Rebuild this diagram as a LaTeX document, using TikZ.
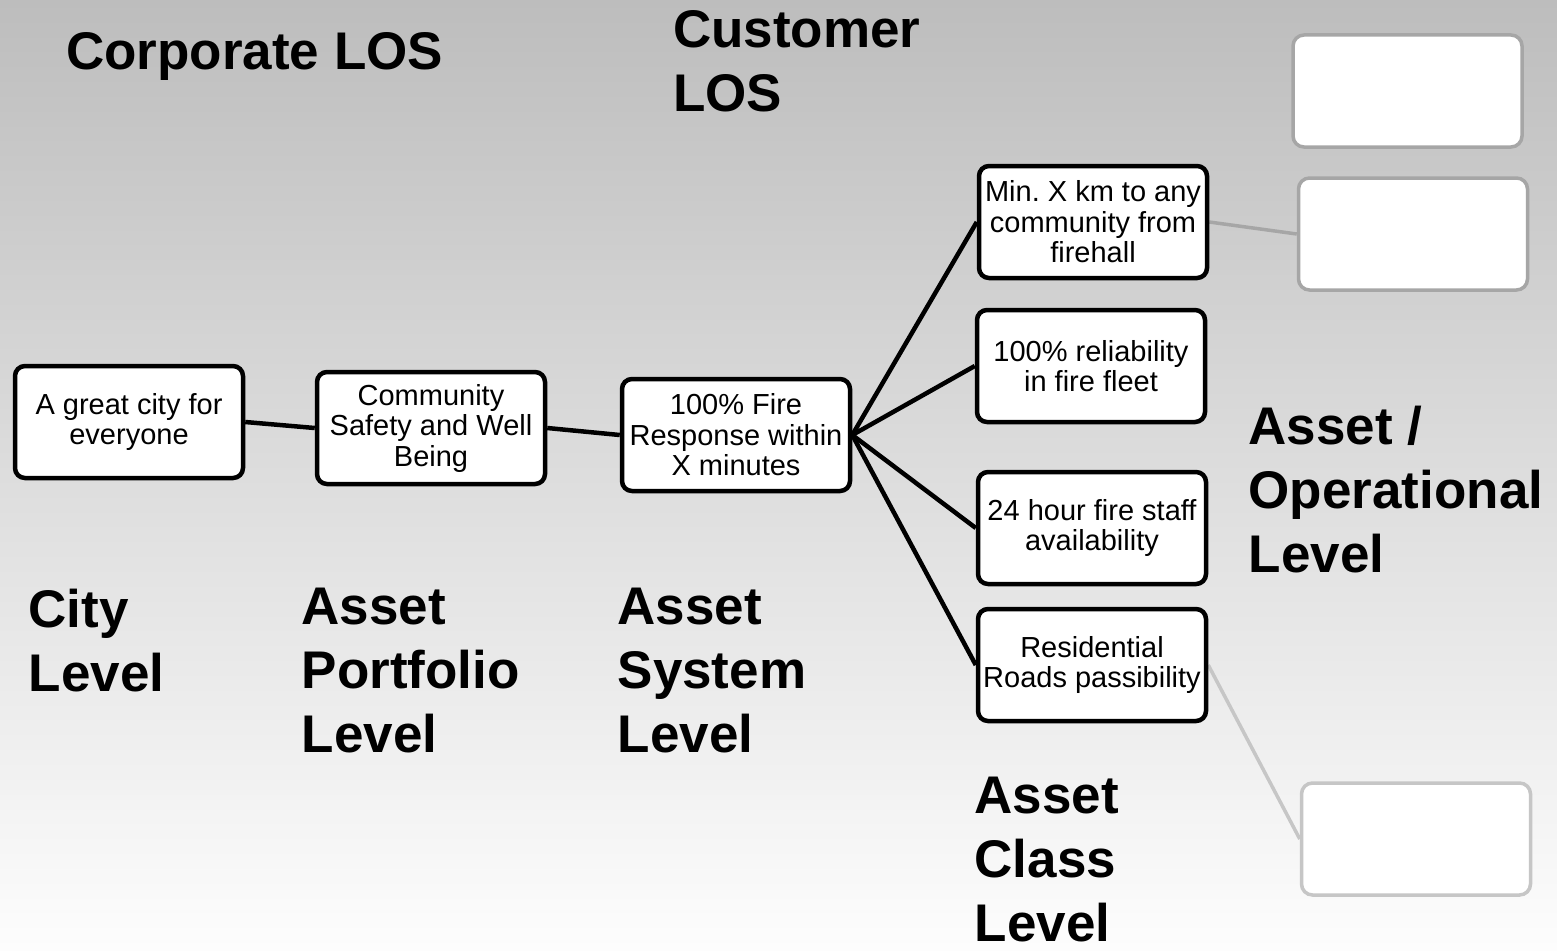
\documentclass[tikz,border=0pt]{standalone}
\usepackage{fontspec}
\setmainfont{Liberation Sans}
\frenchspacing
\pgfdeclarelayer{bg}
\pgfsetlayers{bg,main}
\definecolor{bgtop}{RGB}{189,189,189}
\definecolor{bgbot}{RGB}{253,253,253}
\definecolor{graydark}{RGB}{166,166,166}
\definecolor{graylight}{RGB}{198,198,198}
\tikzset{
  losbox/.style={draw=black, line width=4.5pt, rounded corners=10pt, fill=white,
    minimum width=228pt, minimum height=112pt, inner xsep=2pt, inner ysep=2pt,
    align=center, font=\fontsize{29}{30.5}\selectfont},
  emptybox/.style={draw=#1, line width=3.5pt, rounded corners=11pt, fill=white,
    minimum width=229pt, minimum height=112pt},
  heading/.style={anchor=north west, inner sep=0pt, align=left,
    font=\fontsize{53}{64}\selectfont\bfseries},
  link/.style={draw=black, line width=4.5pt},
  greylink/.style={draw=#1, line width=3.5pt}
}
\begin{document}
\begin{tikzpicture}[x=1pt, y=-1pt]
\useasboundingbox (0,0) rectangle (1557,950);
\begin{pgfonlayer}{bg}
\shade[top color=bgtop, bottom color=bgbot] (0,0) rectangle (1557,950);
\end{pgfonlayer}

% headings
\node[heading] (hcorp) at (66,32) {Corporate LOS};
\node[heading] (hcust) at (673,10) {Customer\\LOS};
\node[heading] (hcity) at (28.5,588.5) {City\\Level};
\node[heading] (hport) at (301.5,588) {Asset\\Portfolio\\Level};
\node[heading] (hsys) at (617.5,588) {Asset\\System\\Level};
\node[heading] (hop) at (1248.5,406) {Asset /\\Operational\\Level};
\node[heading] (hclass) at (974.5,776.5) {Asset\\Class\\Level};

% main boxes
\node[losbox] (city) at (129,422) {A great city for\\everyone};
\node[losbox] (port) at (431,428) {Community\\Safety and Well\\Being};
\node[losbox] (sys) at (736,435) {100\% Fire\\Response within\\X minutes};
\node[losbox] (km) at (1093,222) {Min. X km to any\\community from\\firehall};
\node[losbox] (fleet) at (1091,366) {100\% reliability\\in fire fleet};
\node[losbox] (staff) at (1092,528) {24 hour fire staff\\availability};
\node[losbox] (roads) at (1092,665) {Residential\\Roads passibility};

% empty grey boxes
\node[emptybox=graydark] (g1) at (1407.5,91) {};
\node[emptybox=graydark] (g2) at (1413,234) {};
\node[emptybox=graylight] (g3) at (1416,839) {};

\begin{pgfonlayer}{bg}
\draw[link] (city.east) -- (port.west);
\draw[link] (port.east) -- (sys.west);
\draw[link] (sys.east) -- (km.west);
\draw[link] (sys.east) -- (fleet.west);
\draw[link] (sys.east) -- (staff.west);
\draw[link] (sys.east) -- (roads.west);
\draw[greylink=graydark] (km.east) -- (g2.west);
\draw[greylink=graylight] (roads.east) -- (g3.west);
\end{pgfonlayer}
\end{tikzpicture}
\end{document}
